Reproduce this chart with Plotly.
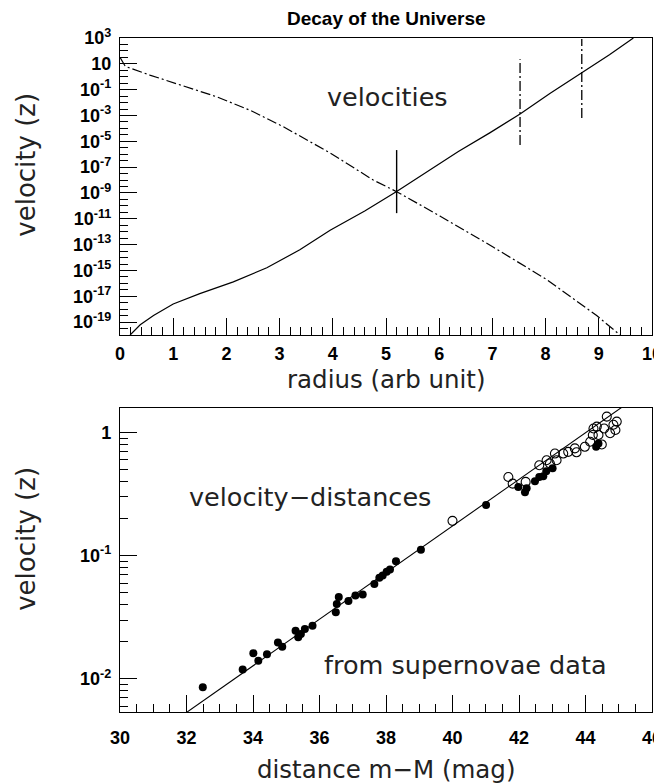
import plotly.graph_objects as go

# ---------------- top panel data ----------------
rise_radius = [0.19, 0.38, 0.63, 1.0, 1.5, 2.13, 2.76, 3.38, 3.95, 4.6, 5.2, 5.8,
               6.36, 6.95, 7.52, 8.08, 8.68, 9.2, 9.65]
rise_velocity = [1e-20, 6.3e-20, 3.2e-19, 2.5e-18, 1.6e-17, 1.3e-16, 1.6e-15, 4.0e-14,
                 1.3e-12, 4.0e-11, 1.3e-9, 5.0e-8, 1.6e-6, 4.5e-5, 1.3e-3, 5.0e-2,
                 2.0, 50.0, 1000.0]

fall_radius = [0.0, 0.1, 0.56, 1.19, 1.82, 2.44, 3.07, 3.95, 4.76, 5.2, 6.02, 7.02,
               8.02, 8.96, 9.4]
fall_velocity = [31.6, 6.3, 1.35, 0.19, 0.028, 2.6e-3, 1.35e-4, 1.26e-6, 1.0e-8,
                 1.26e-9, 1.6e-11, 6.3e-14, 2.0e-16, 3.2e-19, 1e-20]

cross_radius = [5.2]
cross_low = [2.75e-11]
cross_high = [2.1e-6]
bar_radius = [7.52, 8.68]
bar_low = [5.1e-6, 6.3e-4]
bar_high = [23.0, 830.0]

top_tick_exponents = [3, 1, -1, -3, -5, -7, -9, -11, -13, -15, -17, -19]
top_tick_text = ["10<sup>3</sup>", "10", "10<sup>-1</sup>", "10<sup>-3</sup>",
                 "10<sup>-5</sup>", "10<sup>-7</sup>", "10<sup>-9</sup>",
                 "10<sup>-11</sup>", "10<sup>-13</sup>", "10<sup>-15</sup>",
                 "10<sup>-17</sup>", "10<sup>-19</sup>"]

# ---------------- bottom panel data ----------------
filled_mag = [32.49, 33.69, 34.01, 34.16, 34.42, 34.75, 34.88, 35.28, 35.36, 35.44,
              35.56, 35.79, 36.49, 36.52, 36.58, 36.87, 37.08, 37.30, 37.65, 37.80,
              37.90, 38.02, 38.12, 38.30, 39.05, 41.01, 41.98, 42.18, 42.23, 42.48,
              42.61, 42.73, 42.82, 43.01, 44.32, 44.39]
filled_z = [0.00855, 0.0119, 0.0161, 0.0140, 0.0158, 0.0197, 0.0182, 0.0246, 0.0217,
            0.0231, 0.0254, 0.0270, 0.0348, 0.0406, 0.0461, 0.0428, 0.0476, 0.0485,
            0.0589, 0.0661, 0.0690, 0.0740, 0.0773, 0.0902, 0.112, 0.258, 0.361,
            0.328, 0.354, 0.403, 0.436, 0.442, 0.486, 0.513, 0.767, 0.817]

open_mag = [40.00, 41.68, 41.81, 42.20, 42.61, 42.83, 42.93, 43.08, 43.13, 43.33,
            43.48, 43.68, 43.73, 43.98, 44.14, 44.22, 44.24, 44.34, 44.39, 44.49,
            44.56, 44.64, 44.74, 44.84, 44.90, 44.94]
open_z = [0.192, 0.436, 0.385, 0.398, 0.543, 0.597, 0.561, 0.676, 0.597, 0.676,
          0.698, 0.745, 0.692, 0.767, 0.843, 0.957, 1.08, 1.12, 0.957, 0.802,
          1.08, 1.35, 0.989, 1.16, 1.05, 1.23]

fit_mag = [31.5, 45.5]
fit_z = [0.00428, 1.92]

bottom_tick_vals = [1, 0.1, 0.01]
bottom_tick_text = ["1", "10<sup>-1</sup>", "10<sup>-2</sup>"]

# ---------------- figure ----------------
BLACK = "black"
DASHDOT = "10px,3px,2px,3px"
fig = go.Figure()

fig.add_trace(go.Scatter(x=rise_radius, y=rise_velocity, mode="lines",
                         line=dict(color=BLACK, width=1.2), xaxis="x", yaxis="y"))
fig.add_trace(go.Scatter(x=fall_radius, y=fall_velocity, mode="lines",
                         line=dict(color=BLACK, width=1.2, dash=DASHDOT),
                         xaxis="x", yaxis="y"))
for xr, lo, hi in zip(cross_radius, cross_low, cross_high):
    fig.add_trace(go.Scatter(x=[xr, xr], y=[lo, hi], mode="lines",
                             line=dict(color=BLACK, width=1.4), xaxis="x", yaxis="y"))
for xr, lo, hi in zip(bar_radius, bar_low, bar_high):
    fig.add_trace(go.Scatter(x=[xr, xr], y=[lo, hi], mode="lines",
                             line=dict(color=BLACK, width=1.3, dash=DASHDOT),
                             xaxis="x", yaxis="y"))

fig.add_trace(go.Scatter(x=fit_mag, y=fit_z, mode="lines",
                         line=dict(color=BLACK, width=1.1), xaxis="x2", yaxis="y2"))
fig.add_trace(go.Scatter(x=open_mag, y=open_z, mode="markers",
                         marker=dict(symbol="circle-open", size=9, color=BLACK,
                                     line=dict(width=1.1, color=BLACK)),
                         xaxis="x2", yaxis="y2"))
fig.add_trace(go.Scatter(x=filled_mag, y=filled_z, mode="markers",
                         marker=dict(symbol="circle", size=8, color=BLACK),
                         xaxis="x2", yaxis="y2"))

tickfont = dict(family="Liberation Sans", size=18, color=BLACK, weight="bold")
axis_common = dict(showline=True, linecolor=BLACK, linewidth=1.2, mirror=True,
                   ticks="inside", tickcolor=BLACK, tickwidth=1, ticklen=17,
                   showgrid=False, zeroline=False, tickfont=tickfont,
                   ticklabeloverflow="allow", automargin=False)

top_minor = [10 ** (k / 2) for k in range(-40, 7)]
bottom_minor = [m * 10 ** e for e in (-3, -2, -1) for m in range(2, 10)]

# the page adds an 8 px body margin, so the figure is 8 px smaller than the window
fig.update_layout(
    width=654, height=776,
    margin=dict(l=112, r=10, t=30, b=72, autoexpand=False),
    paper_bgcolor="white", plot_bgcolor="white",
    showlegend=False,
    xaxis=dict(domain=[0, 1], anchor="y", range=[0, 10],
               tickmode="array", tickvals=list(range(0, 11)),
               minor=dict(dtick=0.2, ticks="inside", ticklen=8, tickcolor=BLACK,
                          tickwidth=1, showgrid=False),
               ticklabelstandoff=2, **axis_common),
    yaxis=dict(domain=[0.5593, 1], anchor="x", type="log", range=[-20, 3],
               tickmode="array", tickvals=[10 ** e for e in top_tick_exponents],
               ticktext=top_tick_text,
               minor=dict(tickmode="array", tickvals=top_minor, ticks="inside",
                          ticklen=8, tickcolor=BLACK, tickwidth=1, showgrid=False),
               ticklabelstandoff=4, **axis_common),
    xaxis2=dict(domain=[0, 1], anchor="y2", range=[30, 46],
                tickmode="array", tickvals=list(range(30, 47, 2)),
                minor=dict(dtick=0.5, ticks="inside", ticklen=8, tickcolor=BLACK,
                           tickwidth=1, showgrid=False),
                ticklabelstandoff=9, **axis_common),
    yaxis2=dict(domain=[0, 0.451], anchor="x2", type="log", range=[-2.27, 0.2],
                tickmode="array", tickvals=bottom_tick_vals, ticktext=bottom_tick_text,
                minor=dict(tickmode="array", tickvals=bottom_minor, ticks="inside",
                           ticklen=8, tickcolor=BLACK, tickwidth=1, showgrid=False),
                ticklabelstandoff=4, **axis_common),
)

xlabel_font = dict(family="DejaVu Sans", size=24.5, color="#222")
ylabel_font = dict(family="DejaVu Sans", size=26, color="#222")
text_font = dict(family="DejaVu Sans", size=25.5, color="#222")

annotations = [
    dict(text="<b>Decay of the Universe</b>", xref="paper", yref="paper", x=0.5,
         y=1.0282, xanchor="center", yanchor="middle", showarrow=False,
         font=dict(family="Liberation Sans", size=19, color=BLACK)),
    dict(text="radius (arb unit)", xref="paper", yref="paper", x=0.5, y=0.4926,
         xanchor="center", yanchor="middle", showarrow=False, font=xlabel_font),
    dict(text="distance m\u2212M (mag)", xref="paper", yref="paper", x=0.5, y=-0.085,
         xanchor="center", yanchor="middle", showarrow=False, font=xlabel_font),
    dict(text="velocity (z)", xref="paper", yref="paper", x=0, xshift=-94, y=0.812,
         xanchor="center", yanchor="middle", textangle=-90, showarrow=False,
         font=ylabel_font),
    dict(text="velocity (z)", xref="paper", yref="paper", x=0, xshift=-94, y=0.257,
         xanchor="center", yanchor="middle", textangle=-90, showarrow=False,
         font=ylabel_font),
    dict(text="velocities", xref="x", yref="y", x=5.02, y=-1.57,
         xanchor="center", yanchor="middle", showarrow=False, font=text_font),
    dict(text="velocity\u2212distances", xref="x2", yref="y2", x=35.7, y=-0.525,
         xanchor="center", yanchor="middle", showarrow=False, font=text_font),
    dict(text="from supernovae data", xref="x2", yref="y2", x=40.4, y=-1.89,
         xanchor="center", yanchor="middle", showarrow=False, font=text_font),
]
fig.update_layout(annotations=annotations)

fig.write_html("out.html")
